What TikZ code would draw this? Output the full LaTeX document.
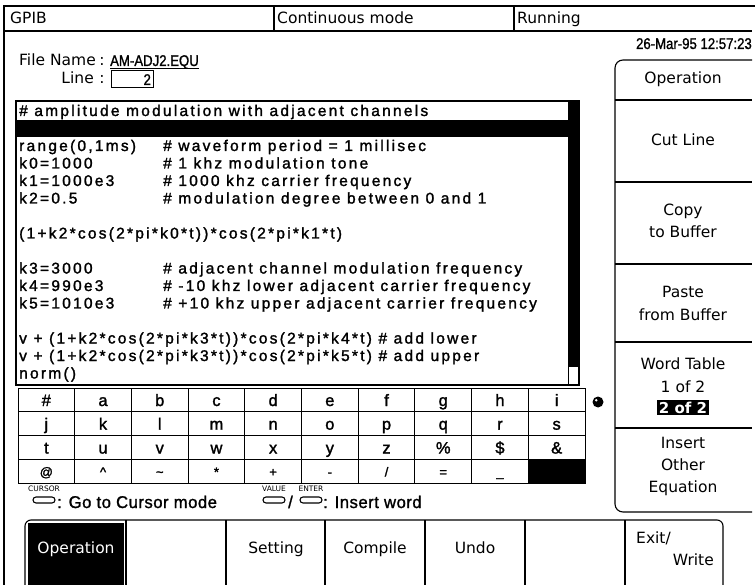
\documentclass[tikz,border=0pt]{standalone}
\usepackage{fontspec}
\usetikzlibrary{calc}
\newfontfamily\uifont{DejaVu Sans}
\newfontfamily\edfont[LetterSpace=14.5,FakeBold=1.6]{Liberation Sans}
\newfontfamily\lgfont[LetterSpace=3,FakeStretch=0.98,FakeBold=1.4]{Liberation Sans}
\newfontfamily\plfont[FakeBold=1.6]{Liberation Sans}
\newfontfamily\cdfont[FakeStretch=0.85,FakeBold=1.2]{Liberation Sans}
\def\bl#1{{116+17.5*(#1-1)}}
\begin{document}
\begin{tikzpicture}[x=1pt,y=-1pt,
  ln/.style={line width=1.1pt},
  thinln/.style={line width=0.9pt},
  ui/.style={font=\uifont\fontsize{15.5}{17}\selectfont, inner sep=0pt, anchor=base},
  ed/.style={font=\edfont\fontsize{15.5}{17}\selectfont, inner sep=0pt, anchor=base west},
  cell/.style={font=\plfont\fontsize{16.5}{17}\selectfont, inner sep=0pt, anchor=base},
  sym/.style={font=\plfont\fontsize{13}{14}\selectfont, inner sep=0pt, anchor=base},
  keylbl/.style={font=\uifont\fontsize{7.5}{8}\selectfont, inner sep=0pt},
  keysym/.style={draw, line width=1.1pt, rounded corners=3pt, minimum width=22pt, minimum height=6pt, inner sep=0pt},
  mtxt/.style={font=\lgfont\fontsize{17}{18}\selectfont, inner sep=0pt, anchor=base west},
  small/.style={font=\cdfont\fontsize{15.5}{16}\selectfont, inner sep=0pt, anchor=base west},
]
\useasboundingbox (0,0) rectangle (755,585);
\fill[white] (0,0) rectangle (755,585);
% ---------- top bar
\draw[ln] (4,585) -- (4,6) -- (755,6);
\draw[ln] (4,31) -- (752,31);
\draw[ln] (274,6) -- (274,31);
\draw[ln] (514,6) -- (514,31);
\node[ui,anchor=base west] (gpib) at (10,24) {GPIB};
\node[ui,anchor=base west] (mode) at (277,24) {Continuous mode};
\node[ui,anchor=base west] (run) at (517,24) {Running};
\node[small,anchor=base east] (date) at (752,49) {26-Mar-95 12:57:23};
% ---------- file name / line
\node[ui,anchor=base west] (fn) at (19,66) {File Name};
\node[ui] (c1) at (102,66) {:};
\node[small] (fname) at (110,66) {AM-ADJ2.EQU};
\draw[thinln] ($(fname.base west)+(0,2.5)$) -- ($(fname.base east)+(0,2.5)$);
\node[ui,anchor=base east] (linelbl) at (94,84) {Line};
\node[ui] (c2) at (102,84) {:};
\node[draw, ln, minimum width=42pt, minimum height=17pt, inner sep=0pt, anchor=west] (linebox) at (111,79) {};
\node[small,anchor=base east] (lineval) at ($(linebox.east)+(-3,6)$) {2};
% ---------- editor
\draw[ln] (16,101) rectangle (579,385);
\fill (17,120) rectangle (568,137);
\draw[thinln] (568,101) -- (568,385);
\fill (568,101) rectangle (579,367);
\node[ed] (e1) at (19,\bl{1}) {\# amplitude modulation with adjacent channels};
\node[ed] (e3a) at (19,\bl{3}) {range(0,1ms)};
\node[ed] (e3b) at (163,\bl{3}) {\# waveform period = 1 millisec};
\node[ed] (e4a) at (19,\bl{4}) {k0=1000};
\node[ed] (e4b) at (163,\bl{4}) {\# 1 khz modulation tone};
\node[ed] (e5a) at (19,\bl{5}) {k1=1000e3};
\node[ed] (e5b) at (163,\bl{5}) {\# 1000 khz carrier frequency};
\node[ed] (e6a) at (19,\bl{6}) {k2=0.5};
\node[ed] (e6b) at (163,\bl{6}) {\# modulation degree between 0 and 1};
\node[ed] (e8) at (19,\bl{8}) {(1+k2*cos(2*pi*k0*t))*cos(2*pi*k1*t)};
\node[ed] (e10a) at (19,\bl{10}) {k3=3000};
\node[ed] (e10b) at (163,\bl{10}) {\# adjacent channel modulation frequency};
\node[ed] (e11a) at (19,\bl{11}) {k4=990e3};
\node[ed] (e11b) at (163,\bl{11}) {\# -10 khz lower adjacent carrier frequency};
\node[ed] (e12a) at (19,\bl{12}) {k5=1010e3};
\node[ed] (e12b) at (163,\bl{12}) {\# +10 khz upper adjacent carrier frequency};
\node[ed] (e14) at (19,\bl{14}) {v + (1+k2*cos(2*pi*k3*t))*cos(2*pi*k4*t) \# add lower};
\node[ed] (e15) at (19,\bl{15}) {v + (1+k2*cos(2*pi*k3*t))*cos(2*pi*k5*t) \# add upper};
\node[ed] (e16) at (19,\bl{16}) {norm()};
% ---------- word table
\draw[thinln] (18,388) rectangle (585,483);
\foreach \yy in {411.75,435.5,459.25} \draw[thinln] (18,\yy) -- (585,\yy);
\foreach \k in {1,...,9} \draw[thinln] ({18+56.7*\k},388) -- ({18+56.7*\k},483);
\fill ({18+56.7*9},459.25) rectangle (585,483);
\foreach \ch [count=\n from 0] in {\#,a,b,c,d,e,f,g,h,i}
  \node[cell] (ka\n) at ({18+56.7*(\n+0.5)},406) {\ch};
\foreach \ch [count=\n from 0] in {j,k,l,m,n,o,p,q,r,s}
  \node[cell] (kb\n) at ({18+56.7*(\n+0.5)},429.7) {\ch};
\foreach \ch [count=\n from 0] in {t,u,v,w,x,y,z,\%,\$,\&}
  \node[cell] (kc\n) at ({18+56.7*(\n+0.5)},453.5) {\ch};
\foreach \ch [count=\n from 0] in {@,\textasciicircum,\textasciitilde,*,+,-,/,=,\_}
  \node[sym] (kd\n) at ({18+56.7*(\n+0.5)},476.5) {\ch};
\node[circle, fill, minimum size=11pt, inner sep=0pt] (bullet) at (598,402) {};
\fill[white] (596.2,400.2) circle (1.4);
% ---------- key legend
\node[keylbl] (kcl) at (44,489) {CURSOR};
\node[keysym] (kcs) at (44,500) {};
\node[mtxt] (kct) at (57,508) {: Go to Cursor mode};
\node[keylbl] (kvl) at (274,489) {VALUE};
\node[keysym] (kvs) at (274,500) {};
\node[mtxt] (kslash) at (288,508) {/};
\node[keylbl] (kel) at (311,489) {ENTER};
\node[keysym] (kes) at (311,500) {};
\node[mtxt] (kit) at (323,508) {: Insert word};
% ---------- right panel
\draw[ln, rounded corners=8pt] (752,60) -- (615,60) -- (615,512) -- (752,512);
\foreach \yy in {100,182,264,342,428} \draw[ln] (615,\yy) -- (752,\yy);
\node[ui] (pOp) at (683,84) {Operation};
\node[ui] (pCut) at (683,146) {Cut Line};
\node[ui] (pCopyA) at (683,216) {Copy};
\node[ui] (pCopyB) at (683,238) {to Buffer};
\node[ui] (pPasteA) at (683,298) {Paste};
\node[ui] (pPasteB) at (683,320) {from Buffer};
\node[ui] (pWA) at (683,370) {Word Table};
\node[ui] (pWB) at (683,392) {1 of 2};
\node[ui, fill=black, text=white, inner sep=1.5pt, font=\uifont\bfseries\fontsize{15}{17}\selectfont] (pWC) at (683,413) {2 of 2};
\node[ui] (pIA) at (683,448) {Insert};
\node[ui] (pIB) at (683,470) {Other};
\node[ui] (pIC) at (683,492) {Equation};
% ---------- bottom bar
\draw[ln, rounded corners=6pt] (25,585) -- (25,520) -- (723,520) -- (723,585);
\foreach \xx in {126,226,325,425,525,625} \draw[ln] (\xx,520) -- (\xx,585);
\fill (27.5,522.5) rectangle (124,585);
\node[ui, text=white] (bOp) at (76,553) {Operation};
\node[ui] (bSet) at (276,553) {Setting};
\node[ui] (bComp) at (375,553) {Compile};
\node[ui] (bUndo) at (475,553) {Undo};
\node[ui, anchor=base west] (bExit) at (636,543) {Exit/};
\node[ui, anchor=base east] (bWrite) at (714,565) {Write};
\end{tikzpicture}
\end{document}
